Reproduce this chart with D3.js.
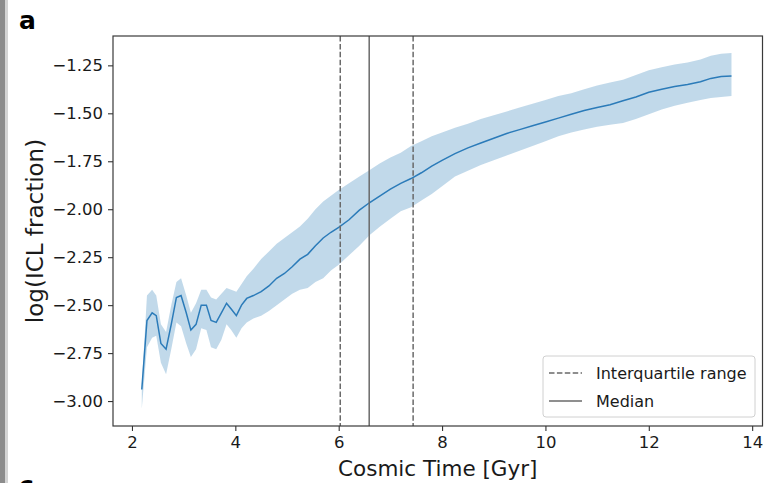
<!DOCTYPE html>
<html>
<head>
<meta charset="utf-8">
<script src="https://cdn.jsdelivr.net/npm/d3@7"></script>
<style>
  body { margin: 0; background: #fff; }
  svg { display: block; font-family: "DejaVu Sans", sans-serif; }
</style>
</head>
<body>
<svg id="chart" width="764" height="483"></svg>
<script>
// data
var TIME = [2.19, 2.29, 2.39, 2.47, 2.56, 2.66, 2.76, 2.86, 2.95, 3.05, 3.14, 3.24, 3.34, 3.44, 3.53, 3.63, 3.73, 3.83, 3.92, 4.02,
    4.12, 4.22, 4.35, 4.5, 4.65, 4.8, 4.95, 5.1, 5.25, 5.4, 5.55, 5.7, 5.85, 6.0, 6.2, 6.4, 6.6, 6.8, 7.0, 7.2,
    7.4, 7.6, 7.8, 8.0, 8.25, 8.5, 8.75, 9.0, 9.25, 9.5, 9.75, 10.0, 10.25, 10.5, 10.75, 11.0, 11.25, 11.5, 11.75, 12.0,
    12.25, 12.5, 12.75, 13.0, 13.2, 13.4, 13.6];
var MEDIAN = [-2.94, -2.58, -2.54, -2.555, -2.70, -2.73, -2.60, -2.46, -2.45, -2.54, -2.63, -2.60, -2.50, -2.50, -2.58, -2.59, -2.54, -2.49, -2.52, -2.555,
    -2.50, -2.465, -2.45, -2.43, -2.40, -2.36, -2.335, -2.30, -2.26, -2.235, -2.19, -2.15, -2.12, -2.095, -2.055, -2.005, -1.965, -1.93, -1.895, -1.865,
    -1.84, -1.81, -1.775, -1.745, -1.71, -1.68, -1.655, -1.63, -1.605, -1.585, -1.565, -1.545, -1.525, -1.505, -1.485, -1.47, -1.455, -1.435, -1.415, -1.39,
    -1.375, -1.36, -1.35, -1.335, -1.318, -1.308, -1.305];
var UPPER = [-2.92, -2.45, -2.42, -2.45, -2.60, -2.64, -2.50, -2.38, -2.36, -2.45, -2.54, -2.49, -2.42, -2.42, -2.46, -2.47, -2.44, -2.41, -2.42, -2.43,
    -2.39, -2.35, -2.31, -2.26, -2.22, -2.18, -2.15, -2.12, -2.09, -2.05, -2.00, -1.96, -1.93, -1.90, -1.865, -1.83, -1.795, -1.76, -1.73, -1.705,
    -1.67, -1.645, -1.62, -1.60, -1.575, -1.555, -1.53, -1.51, -1.49, -1.47, -1.45, -1.43, -1.41, -1.395, -1.375, -1.355, -1.34, -1.325, -1.30, -1.275,
    -1.26, -1.245, -1.235, -1.22, -1.20, -1.19, -1.185];
var LOWER = [-3.04, -2.72, -2.67, -2.66, -2.80, -2.86, -2.73, -2.59, -2.61, -2.70, -2.77, -2.73, -2.62, -2.63, -2.72, -2.73, -2.68, -2.60, -2.63, -2.67,
    -2.62, -2.59, -2.57, -2.555, -2.53, -2.50, -2.47, -2.44, -2.42, -2.41, -2.38, -2.36, -2.32, -2.29, -2.24, -2.19, -2.135, -2.09, -2.05, -2.01,
    -1.99, -1.955, -1.92, -1.88, -1.83, -1.80, -1.77, -1.745, -1.72, -1.695, -1.67, -1.645, -1.62, -1.60, -1.585, -1.57, -1.56, -1.55, -1.53, -1.505,
    -1.48, -1.46, -1.445, -1.43, -1.42, -1.415, -1.41];
var IQR = [6.03, 7.44];
var MEDIAN_TIME = 6.59;
var X_TICKS = [2, 4, 6, 8, 10, 12, 14];
var Y_TICKS = [-1.25, -1.5, -1.75, -2.0, -2.25, -2.5, -2.75, -3.0];
var LEGEND = ["Interquartile range", "Median"];

var MARGIN = {left: 113, top: 36, right: 1.5, bottom: 57};
var W = 764, H = 483;

var svg = d3.select("#chart");

// grey bar at the left edge of the page
svg.append("rect").attr("x", 0).attr("y", 0).attr("width", 5).attr("height", H).attr("fill", "#8c8c8c");
svg.append("rect").attr("x", 5).attr("y", 0).attr("width", 3).attr("height", H).attr("fill", "#d4d4d4");

svg.append("text").attr("x", 19).attr("y", 29)
    .attr("font-size", 25).attr("font-weight", "bold").text("a");
svg.append("text").attr("x", 19).attr("y", 494)
    .attr("font-size", 25).attr("font-weight", "bold").text("c");

var xScale = d3.scaleLinear().domain([1.633, 14.2]).range([MARGIN.left, W - MARGIN.right]);
var yScale = d3.scaleLinear().domain([-3.13, -1.097]).range([H - MARGIN.bottom, MARGIN.top]);

var data = TIME.map((t, i) => ({t: t, m: MEDIAN[i], lo: LOWER[i], hi: UPPER[i]}));

var plot = svg.append("g");

plot.append("path")
    .datum(data)
    .attr("fill", "#1f77b4")
    .attr("fill-opacity", 0.28)
    .attr("d", d3.area().x(d => xScale(d.t)).y0(d => yScale(d.lo)).y1(d => yScale(d.hi)));

plot.append("path")
    .datum(data)
    .attr("fill", "none")
    .attr("stroke", "#2b7bb9")
    .attr("stroke-width", 1.5)
    .attr("d", d3.line().x(d => xScale(d.t)).y(d => yScale(d.m)));

// interquartile + median markers
IQR.forEach(v => {
    plot.append("line")
        .attr("x1", xScale(v)).attr("x2", xScale(v))
        .attr("y1", MARGIN.top).attr("y2", H - MARGIN.bottom)
        .attr("stroke", "#6a6a6a").attr("stroke-width", 1.5)
        .attr("stroke-dasharray", "5.5,2.4");
});
plot.append("line")
    .attr("x1", xScale(MEDIAN_TIME)).attr("x2", xScale(MEDIAN_TIME))
    .attr("y1", MARGIN.top).attr("y2", H - MARGIN.bottom)
    .attr("stroke", "#6a6a6a").attr("stroke-width", 1.5);

// frame
svg.append("rect")
    .attr("x", MARGIN.left).attr("y", MARGIN.top)
    .attr("width", W - MARGIN.right - MARGIN.left)
    .attr("height", H - MARGIN.bottom - MARGIN.top)
    .attr("fill", "none").attr("stroke", "#3a3a3a").attr("stroke-width", 1.2);

var xAxis = svg.append("g")
    .attr("transform", `translate(0, ${H - MARGIN.bottom})`)
    .call(d3.axisBottom(xScale).tickValues(X_TICKS).tickSize(5).tickSizeOuter(0).tickPadding(5).tickFormat(d3.format("d")));
var yAxis = svg.append("g")
    .attr("transform", `translate(${MARGIN.left}, 0)`)
    .call(d3.axisLeft(yScale).tickValues(Y_TICKS).tickSize(5).tickSizeOuter(0).tickPadding(5).tickFormat(d3.format(".2f")));

[xAxis, yAxis].forEach(a => {
    a.select(".domain").remove();
    a.selectAll(".tick line").attr("stroke", "#333").attr("stroke-width", 1.1);
    a.selectAll(".tick text").attr("fill", "#1a1a1a").attr("font-size", 16.5).attr("font-family", "DejaVu Sans");
});

svg.append("text")
    .attr("x", (MARGIN.left + W - MARGIN.right) / 2).attr("y", 476)
    .attr("text-anchor", "middle").attr("font-size", 21.5).attr("fill", "#1a1a1a")
    .text("Cosmic Time [Gyr]");

svg.append("text")
    .attr("transform", `translate(43, ${(MARGIN.top + H - MARGIN.bottom) / 2}) rotate(-90)`)
    .attr("text-anchor", "middle").attr("font-size", 23).attr("fill", "#1a1a1a")
    .text("log(ICL fraction)");

// legend
var leg = svg.append("g").attr("transform", "translate(543, 356)");
leg.append("rect").attr("width", 212).attr("height", 61).attr("rx", 3)
    .attr("fill", "#fff").attr("fill-opacity", 0.8).attr("stroke", "#d0d0d0");
LEGEND.forEach((name, i) => {
    var y = 17 + i * 28;
    leg.append("line").attr("x1", 6).attr("x2", 39).attr("y1", y).attr("y2", y)
        .attr("stroke", "#6a6a6a").attr("stroke-width", 1.5)
        .attr("stroke-dasharray", i === 0 ? "5.5,2.4" : null);
    leg.append("text").attr("x", 53).attr("y", y + 6)
        .attr("font-size", 16).attr("fill", "#1a1a1a").text(name);
});
</script>
</body>
</html>
